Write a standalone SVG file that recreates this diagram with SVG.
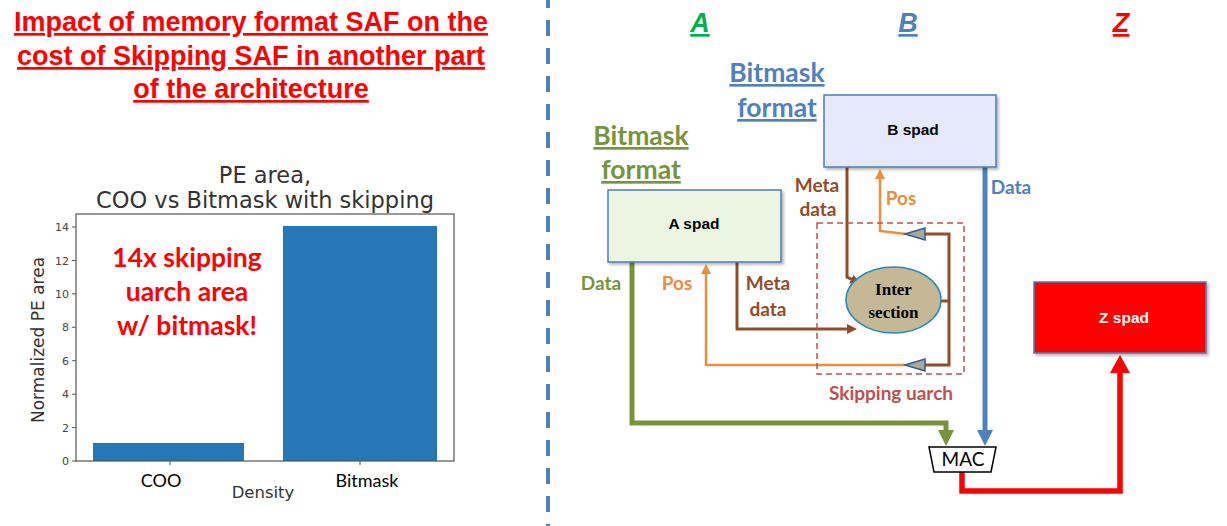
<svg xmlns="http://www.w3.org/2000/svg" width="1227" height="526" viewBox="0 0 1227 526">
<style>
.title{font-family:"Liberation Sans",Arial,sans-serif;font-weight:bold;font-size:27px;fill:#ff0000;text-anchor:middle;text-decoration:underline}
.mpl{font-family:"DejaVu Sans",sans-serif;fill:#333}
.tick{font-family:"DejaVu Sans",sans-serif;font-size:11px;fill:#444;text-anchor:end}
.cal{font-family:Lato,"Open Sans",sans-serif}
.lbl{font-family:Lato,"Open Sans",sans-serif;font-weight:bold;font-size:19px}
.fmt{font-family:Lato,"Open Sans",sans-serif;font-weight:bold;font-size:26.5px;text-decoration:underline;text-anchor:middle}
.spad{font-family:"Liberation Sans",Arial,sans-serif;font-weight:bold;font-size:15.5px;text-anchor:middle}
.hdr{font-family:"Liberation Sans",Arial,sans-serif;font-weight:bold;font-style:italic;font-size:27px;text-decoration:underline;text-anchor:middle}
.box{stroke:#4a7ebb;stroke-width:1.5;filter:url(#sh)}
.brown{fill:none;stroke:#934c28;stroke-width:3}
.orange{fill:none;stroke:#f38b3c;stroke-width:2.5}
.buf{fill:#aca999;stroke:#2e5c94;stroke-width:1.5}
</style>
<defs>
<filter id="sh" x="-10%" y="-10%" width="120%" height="130%"><feDropShadow dx="2" dy="2" stdDeviation="1.5" flood-color="#000" flood-opacity="0.3"/></filter>
<marker id="aG" markerUnits="userSpaceOnUse" markerWidth="16" markerHeight="16" refX="5" refY="8" orient="auto"><path d="M0,0 L16,8 L0,16 z" fill="#77933c"/></marker>
<marker id="aB" markerUnits="userSpaceOnUse" markerWidth="16" markerHeight="16" refX="5" refY="8" orient="auto"><path d="M0,0 L16,8 L0,16 z" fill="#4f81bd"/></marker>
<marker id="aR" markerUnits="userSpaceOnUse" markerWidth="18" markerHeight="20" refX="5" refY="10" orient="auto"><path d="M0,0 L18,10 L0,20 z" fill="#ff0000"/></marker>
<marker id="aO" markerUnits="userSpaceOnUse" markerWidth="10" markerHeight="10" refX="2" refY="5" orient="auto"><path d="M0,0 L10,5 L0,10 z" fill="#f38b3c"/></marker>
<marker id="aBr" markerUnits="userSpaceOnUse" markerWidth="10" markerHeight="10" refX="2" refY="5" orient="auto"><path d="M0,0 L10,5 L0,10 z" fill="#934c28"/></marker>
</defs>
<rect width="1227" height="526" fill="#ffffff"/>

<!-- Left title -->
<g id="title">
<text class="title" x="251" y="31">Impact of memory format SAF on the</text>
<text class="title" x="251" y="65">cost of Skipping SAF in another part</text>
<text class="title" x="251" y="98">of the architecture</text>
</g>

<!-- Divider -->
<line x1="548" y1="0" x2="548" y2="526" stroke="#4f81bd" stroke-width="4" stroke-dasharray="16,12" stroke-dashoffset="8"/>

<!-- Chart -->
<g id="chart">
<text class="mpl" x="265" y="183" font-size="22.5" text-anchor="middle">PE area,</text>
<text class="mpl" x="265" y="208" font-size="22.5" text-anchor="middle">COO vs Bitmask with skipping</text>
<rect x="93" y="443" width="151" height="18" fill="#2577b5"/>
<rect x="283" y="226" width="154" height="235" fill="#2577b5"/>
<rect x="76" y="214" width="378" height="247" fill="none" stroke="#555" stroke-width="1.2"/>
<g stroke="#555" stroke-width="1">
<line x1="72" y1="461" x2="76" y2="461"/><line x1="72" y1="427.6" x2="76" y2="427.6"/>
<line x1="72" y1="394.2" x2="76" y2="394.2"/><line x1="72" y1="360.7" x2="76" y2="360.7"/>
<line x1="72" y1="327.3" x2="76" y2="327.3"/><line x1="72" y1="293.9" x2="76" y2="293.9"/>
<line x1="72" y1="260.5" x2="76" y2="260.5"/><line x1="72" y1="227" x2="76" y2="227"/>
<line x1="170" y1="461" x2="170" y2="465"/><line x1="360" y1="461" x2="360" y2="465"/>
</g>
<text class="tick" x="69" y="465">0</text>
<text class="tick" x="69" y="431.6">2</text>
<text class="tick" x="69" y="398.2">4</text>
<text class="tick" x="69" y="364.7">6</text>
<text class="tick" x="69" y="331.3">8</text>
<text class="tick" x="69" y="297.9">10</text>
<text class="tick" x="69" y="264.5">12</text>
<text class="tick" x="69" y="231">14</text>
<text class="mpl" x="0" y="0" font-size="17" text-anchor="middle" transform="translate(44,340) rotate(-90)">Normalized PE area</text>
<text class="mpl" x="263" y="498" font-size="16.5" text-anchor="middle" fill="#444">Density</text>
<text class="cal" x="161" y="487" font-size="18" text-anchor="middle" fill="#000">COO</text>
<text class="cal" x="367" y="487" font-size="18" text-anchor="middle" fill="#000">Bitmask</text>
<text class="cal" x="187" y="267" font-size="26.5" font-weight="bold" text-anchor="middle" fill="#ff0000">14x skipping</text>
<text class="cal" x="187" y="301" font-size="26.5" font-weight="bold" text-anchor="middle" fill="#ff0000">uarch area</text>
<text class="cal" x="187" y="335" font-size="26.5" font-weight="bold" text-anchor="middle" fill="#ff0000">w/ bitmask!</text>
</g>

<!-- Headers -->
<g id="headers">
<text class="hdr" x="700" y="32" fill="#00b050">A</text>
<text class="hdr" x="908" y="32" fill="#4f81bd">B</text>
<text class="hdr" x="1121" y="32" fill="#ff0000">Z</text>
<text class="fmt" x="777" y="82" fill="#4f81bd">Bitmask</text>
<text class="fmt" x="777" y="117" fill="#4f81bd">format</text>
<text class="fmt" x="641" y="145" fill="#77933c">Bitmask</text>
<text class="fmt" x="641" y="179" fill="#77933c">format</text>
</g>

<!-- Connectors -->
<g id="connectors">
<path d="M632,262 V423 H946 V435" fill="none" stroke="#77933c" stroke-width="5" marker-end="url(#aG)"/>
<path d="M985,167 V435" fill="none" stroke="#4f81bd" stroke-width="5" marker-end="url(#aB)"/>
<path d="M962,472 V491 H1120 V368" fill="none" stroke="#ff0000" stroke-width="5.5" marker-end="url(#aR)"/>
<path class="orange" d="M905,365 H706 V272" marker-end="url(#aO)"/>
<path class="orange" d="M906,234 L880,231 V177" marker-end="url(#aO)"/>
<path class="brown" d="M737,262 V329 H849" marker-end="url(#aBr)"/>
<path class="brown" d="M847,167 V277 L853,280" marker-end="url(#aBr)"/>
<path class="brown" d="M925,234 H949 V365 H925"/>
<path class="brown" d="M941,301 H949"/>
<polygon class="buf" points="905,234 925,228 925,240"/>
<polygon class="buf" points="905,365 925,359 925,371"/>
<rect x="817" y="223" width="147" height="151" fill="none" stroke="#c0504d" stroke-width="1.5" stroke-dasharray="6,4"/>
<text class="lbl" x="601" y="290" text-anchor="middle" fill="#77933c">Data</text>
<text class="lbl" x="677" y="290" text-anchor="middle" fill="#f38b3c">Pos</text>
<text class="lbl" x="768" y="290" text-anchor="middle" fill="#934c28">Meta</text>
<text class="lbl" x="768" y="316" text-anchor="middle" fill="#934c28">data</text>
<text class="lbl" x="817" y="192" text-anchor="middle" fill="#934c28">Meta</text>
<text class="lbl" x="818" y="216" text-anchor="middle" fill="#934c28">data</text>
<text class="lbl" x="901" y="205" text-anchor="middle" fill="#f38b3c">Pos</text>
<text class="lbl" x="1011" y="194" text-anchor="middle" fill="#4f81bd">Data</text>
<text class="lbl" x="891" y="400" text-anchor="middle" fill="#c0504d" font-size="20">Skipping uarch</text>
</g>

<!-- Nodes -->
<g id="b-spad">
<rect class="box" x="824" y="95" width="172" height="72" fill="#e5e9fb"/>
<text class="spad" x="913" y="135">B spad</text>
</g>
<g id="a-spad">
<rect class="box" x="608" y="190" width="173" height="72" fill="#ebf5e1"/>
<text class="spad" x="694" y="229">A spad</text>
</g>
<g id="intersection">
<ellipse cx="893.5" cy="300" rx="47.5" ry="33" fill="#c4b896" stroke="#2a8ab5" stroke-width="1.5"/>
<text x="893.5" y="295" font-family="'Liberation Serif','Times New Roman',serif" font-weight="bold" font-size="17" text-anchor="middle">Inter</text>
<text x="893.5" y="318" font-family="'Liberation Serif','Times New Roman',serif" font-weight="bold" font-size="17" text-anchor="middle">section</text>
</g>
<g id="z-spad">
<rect class="box" x="1034" y="282" width="172" height="71" fill="#ff0000"/>
<text class="spad" x="1124" y="323" fill="#ffffff">Z spad</text>
</g>
<g id="mac">
<polygon points="929,447 996,447 991,472 934,472" fill="#ffffff" stroke="#000" stroke-width="1.5"/>
<text class="cal" x="963" y="466" font-size="19" text-anchor="middle" fill="#000">MAC</text>
</g>
</svg>
